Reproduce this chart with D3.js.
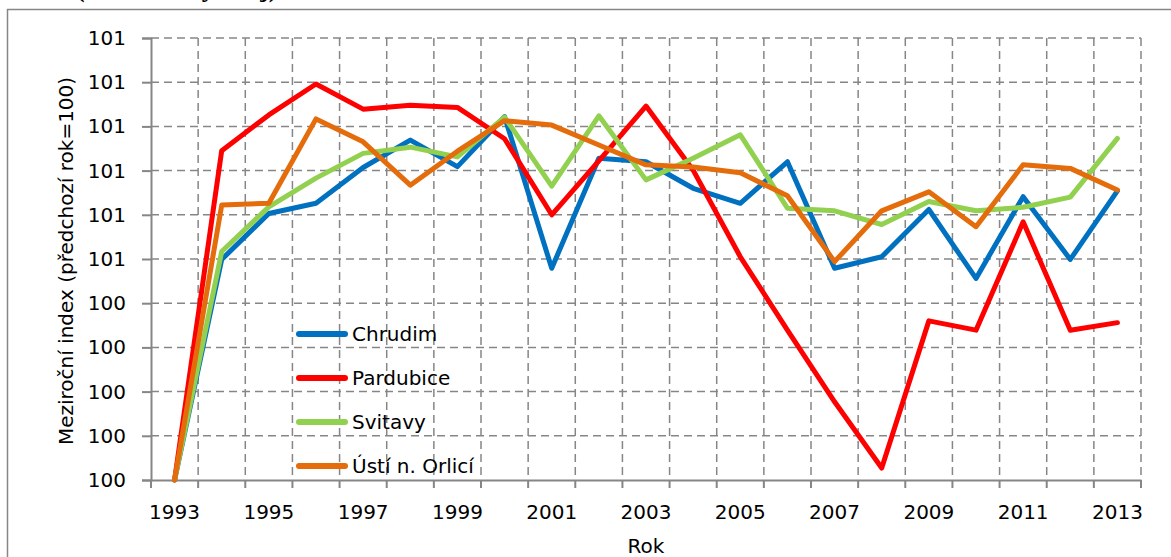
<!DOCTYPE html>
<html>
<head>
<meta charset="utf-8">
<script src="https://cdn.jsdelivr.net/npm/d3@7"></script>
<style>
  body { margin: 0; background: #fff; }
  text { font-family: "DejaVu Sans", Lato, sans-serif; fill: #000; }
</style>
</head>
<body>
<div id="chart"></div>
<script>
// roky
var years = d3.range(1993, 2014);
var yTicks = [100, 100.1, 100.2, 100.3, 100.4, 100.5, 100.6, 100.7, 100.8, 100.9, 101];

// meziroční index po okresech
var chrudim = [100, 100.499, 100.603, 100.626, 100.707, 100.769, 100.709, 100.822, 100.479, 100.728, 100.720,
  100.660, 100.626, 100.720, 100.479, 100.505, 100.612, 100.456, 100.641, 100.499, 100.654];
var pardubice = [100, 100.745, 100.826, 100.896, 100.839, 100.848, 100.843, 100.772, 100.600, 100.722, 100.846,
  100.701, 100.505, 100.339, 100.177, 100.027, 100.360, 100.339, 100.584, 100.339, 100.356];
var svitavy = [100, 100.517, 100.618, 100.683, 100.739, 100.753, 100.731, 100.821, 100.665, 100.824, 100.679,
  100.728, 100.781, 100.615, 100.609, 100.578, 100.630, 100.609, 100.617, 100.640, 100.773];
var usti = [100, 100.622, 100.626, 100.817, 100.765, 100.667, 100.744, 100.813, 100.803, 100.758, 100.713,
  100.708, 100.695, 100.643, 100.494, 100.609, 100.652, 100.573, 100.713, 100.705, 100.656];

var seriesNames = ["Chrudim", "Pardubice", "Svitavy", "Ústí n. Orlicí"];
var seriesColors = ["#0070C0", "#FF0000", "#92D050", "#E46C0A"];
var seriesValues = [chrudim, pardubice, svitavy, usti];

var W = 1171, H = 557;
var pLeft = 151, pRight = 1141, pTop = 38, pBottom = 480;
var fontSize = "20px";

var svg = d3.select("#chart").append("svg")
    .attr("width", W)
    .attr("height", H);

// kus nadpisu nad grafem (oříznutý)
svg.append("text")
    .attr("x", 76).attr("y", -3)
    .style("font-family", "'Liberation Serif', 'Times New Roman', serif")
    .style("font-weight", "bold")
    .style("font-size", "26px")
    .text("(Pardubický kraj)");

// rámeček grafu
svg.append("rect")
    .attr("x", 7.5).attr("y", 9.5)
    .attr("width", W + 20).attr("height", H + 20)
    .attr("fill", "none")
    .attr("stroke", "#868686")
    .attr("stroke-width", 1.5);

var x = d3.scaleBand().domain(years).range([pLeft, pRight]);
var y = d3.scaleLinear().domain([100, 101]).range([pBottom, pTop]);

var grid = svg.append("g").attr("stroke", "#868686").attr("stroke-width", 1.5)
    .attr("stroke-dasharray", "8,5");

// vodorovná mřížka
grid.selectAll(".hg").data(yTicks.slice(1)).enter().append("line")
    .attr("x1", pLeft).attr("x2", pRight)
    .attr("y1", function(d){ return y(d); })
    .attr("y2", function(d){ return y(d); });

// svislá mřížka mezi kategoriemi
var bounds = years.slice(1).map(function(d){ return x(d); }).concat([pRight]);
grid.selectAll(".vg").data(bounds).enter().append("line")
    .attr("x1", function(d){ return d; }).attr("x2", function(d){ return d; })
    .attr("y1", pTop).attr("y2", pBottom);

// osa Y
var yAxis = d3.axisLeft(y).tickValues(yTicks).tickSize(9).tickPadding(16)
    .tickFormat(function(d){ return Math.round(d); });
var gy = svg.append("g").attr("transform", "translate(" + pLeft + ",0)").call(yAxis);
gy.select(".domain").attr("stroke", "#868686").attr("stroke-width", 2);
gy.selectAll(".tick line").attr("stroke", "#868686").attr("stroke-width", 2);
gy.selectAll(".tick text").style("font-size", fontSize)
    .style("font-family", "'DejaVu Sans', Lato, sans-serif").attr("fill", "#000");

// osa X
var xAxis = d3.axisBottom(x)
    .tickFormat(function(d){ return (d - 1993) % 2 === 0 ? d : ""; })
    .tickSize(0).tickPadding(25);
var gx = svg.append("g").attr("transform", "translate(0," + pBottom + ")").call(xAxis);
gx.select(".domain").attr("stroke", "#868686").attr("stroke-width", 2);
gx.selectAll(".tick text").style("font-size", fontSize)
    .style("font-family", "'DejaVu Sans', Lato, sans-serif").attr("fill", "#000");
gx.selectAll(".ctick").data([pLeft].concat(bounds)).enter().append("line")
    .attr("x1", function(d){ return d; }).attr("x2", function(d){ return d; })
    .attr("y1", 0).attr("y2", 8)
    .attr("stroke", "#868686").attr("stroke-width", 2);

// popisky os
svg.append("text")
    .attr("transform", "translate(73," + ((pTop + pBottom) / 2 + 2) + ") rotate(-90)")
    .attr("text-anchor", "middle")
    .style("font-size", fontSize)
    .text("Meziroční index (předchozí rok=100)");

svg.append("text")
    .attr("x", (pLeft + pRight) / 2).attr("y", 553)
    .attr("text-anchor", "middle")
    .style("font-size", fontSize)
    .text("Rok");

// čáry
var line = d3.line()
    .x(function(d, i){ return x(years[i]) + x.bandwidth() / 2; })
    .y(function(d){ return y(d); });

svg.selectAll(".serie").data(seriesValues).enter().append("path")
    .attr("d", line)
    .attr("fill", "none")
    .attr("stroke", function(d, i){ return seriesColors[i]; })
    .attr("stroke-width", 5)
    .attr("stroke-linejoin", "round")
    .attr("stroke-linecap", "round");

// legenda
var lg = svg.append("g").attr("transform", "translate(296,334)");
var item = lg.selectAll(".lg").data(seriesNames).enter().append("g")
    .attr("transform", function(d, i){ return "translate(0," + (i * 44) + ")"; });
item.append("rect")
    .attr("x", 0).attr("y", -3).attr("width", 52).attr("height", 6)
    .attr("rx", 3)
    .attr("fill", function(d, i){ return seriesColors[i]; });
item.append("text")
    .attr("x", 56).attr("y", 7)
    .style("font-size", fontSize)
    .text(function(d){ return d; });
</script>
</body>
</html>
